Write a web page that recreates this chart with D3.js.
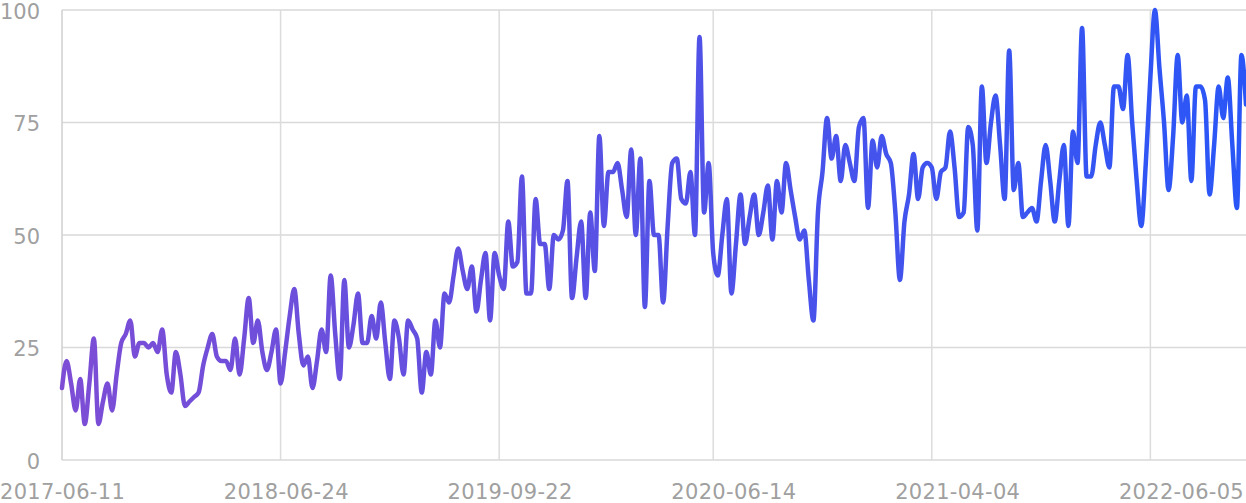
<!DOCTYPE html>
<html>
<head>
<meta charset="utf-8">
<script src="https://cdn.jsdelivr.net/npm/d3@7"></script>
<style>
    body { margin: 0; background: #fff; }
    #chart text { font-family: "DejaVu Sans", sans-serif; fill: #a0a0a0; }
</style>
</head>
<body>
<div id="chart"></div>
<script>

// weekly interest values, one per week from 2017-06-11
var values = [
    16, 22, 17, 11, 18, 8, 17, 27, 8, 13, 17, 11, 19, 26, 28, 31, 23, 26, 26, 25,
    26, 24, 29, 19, 15, 24, 19, 12, 13, 14, 15, 21, 25, 28, 23, 22, 22, 20, 27, 19,
    27, 36, 26, 31, 24, 20, 24, 29, 17, 24, 32, 38, 28, 21, 23, 16, 22, 29, 24, 41,
    28, 18, 40, 25, 30, 37, 26, 26, 32, 27, 35, 26, 18, 31, 27, 19, 31, 29, 27, 15,
    24, 19, 31, 25, 37, 35, 41, 47, 42, 38, 43, 33, 40, 46, 31, 46, 41, 38, 53, 43,
    44, 63, 37, 37, 58, 48, 48, 38, 50, 49, 51, 62, 36, 45, 53, 36, 55, 42, 72, 52,
    64, 64, 66, 60, 54, 69, 50, 67, 34, 62, 50, 50, 35, 52, 66, 67, 58, 57, 64, 50,
    94, 55, 66, 46, 41, 50, 58, 37, 48, 59, 48, 54, 59, 50, 55, 61, 49, 62, 55, 66,
    60, 54, 49, 51, 40, 31, 55, 64, 76, 67, 72, 62, 70, 66, 62, 74, 76, 56, 71, 65,
    72, 68, 66, 55, 40, 53, 59, 68, 58, 65, 66, 65, 58, 64, 65, 73, 65, 54, 55, 74,
    70, 51, 83, 66, 75, 81, 70, 58, 91, 60, 66, 54, 55, 56, 53, 62, 70, 62, 53, 62,
    70, 52, 73, 66, 96, 63, 63, 70, 75, 70, 65, 83, 83, 78, 90, 75, 62, 52, 66, 85,
    100, 87, 75, 60, 72, 90, 75, 81, 62, 83, 83, 80, 59, 70, 83, 76, 85, 70, 56, 90,
    79
];

var xLabels = ["2017-06-11", "2018-06-24", "2019-09-22", "2020-06-14", "2021-04-04", "2022-06-05"];
var yTicks = [0, 25, 50, 75, 100];
// week indexes where the vertical grid lines fall
var gridWeeks = [0, 48, 96, 143, 191, 239];

var width = 1246, height = 503;
var margin = { left: 62, right: 0, top: 10, bottom: 43 };

var svg = d3.select("#chart").append("svg")
    .attr("width", width)
    .attr("height", height);

var x = d3.scaleLinear()
    .domain([0, values.length - 1])
    .range([margin.left, width - margin.right]);

var y = d3.scaleLinear()
    .domain([0, 100])
    .range([height - margin.bottom, margin.top]);

// grid
svg.append("g")
    .selectAll("line")
    .data(yTicks)
    .enter().append("line")
    .attr("x1", margin.left)
    .attr("x2", width)
    .attr("y1", function (d) { return y(d); })
    .attr("y2", function (d) { return y(d); })
    .attr("stroke", "#d9d9d9")
    .attr("stroke-width", 1.5);

svg.append("g")
    .selectAll("line")
    .data(gridWeeks)
    .enter().append("line")
    .attr("x1", function (d) { return x(d); })
    .attr("x2", function (d) { return x(d); })
    .attr("y1", y(100))
    .attr("y2", y(0))
    .attr("stroke", function (d) { return d == 0 ? "#cfcfcf" : "#dcdcdc"; })
    .attr("stroke-width", 1.5);

// y labels
svg.append("g")
    .selectAll("text")
    .data(yTicks)
    .enter().append("text")
    .attr("x", 40)
    .attr("y", function (d) { return y(d) + 1.5; })
    .attr("text-anchor", "end")
    .attr("dominant-baseline", "central")
    .style("font-size", "21px")
    .text(function (d) { return d; });

// x labels spread from edge to edge
var xl = svg.append("g")
    .selectAll("text")
    .data(xLabels)
    .enter().append("text")
    .attr("y", 498.5)
    .style("font-size", "21px")
    .style("letter-spacing", "0.3px")
    .text(function (d) { return d; });

var widths = [];
xl.each(function () { widths.push(this.getComputedTextLength()); });
var gap = (width - 2 - d3.sum(widths)) / (xLabels.length - 1);
var pos = 0;
xl.attr("x", function (d, i) {
    var p = pos;
    pos += widths[i] + gap;
    return p;
});

// line gradient purple -> blue
var grad = svg.append("defs").append("linearGradient")
    .attr("id", "lineGrad")
    .attr("gradientUnits", "userSpaceOnUse")
    .attr("x1", margin.left).attr("x2", width)
    .attr("y1", 0).attr("y2", 0);
grad.append("stop").attr("offset", "0%").attr("stop-color", "#7d4dd5");
grad.append("stop").attr("offset", "100%").attr("stop-color", "#2a56f7");

var line = d3.line()
    .x(function (d, i) { return x(i); })
    .y(function (d) { return y(d); })
    .curve(d3.curveMonotoneX);

svg.append("path")
    .datum(values)
    .attr("d", line)
    .attr("fill", "none")
    .attr("stroke", "url(#lineGrad)")
    .attr("stroke-width", 4.5)
    .attr("stroke-linejoin", "round")
    .attr("stroke-linecap", "round");

</script>
</body>
</html>
